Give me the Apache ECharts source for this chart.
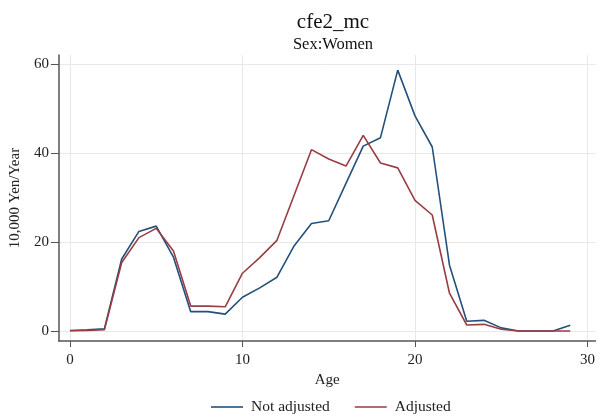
<!DOCTYPE html>
<html><head><meta charset="utf-8">
<script src="https://cdn.jsdelivr.net/npm/echarts@6/dist/echarts.min.js"></script>
<style>html,body{margin:0;padding:0;background:#fff}#c{width:598px;height:416px}</style>
</head><body><div id="c"></div>
<script>
const ages = [0,1,2,3,4,5,6,7,8,9,10,11,12,13,14,15,16,17,18,19,20,21,22,23,24,25,26,27,28,29];
const notAdjusted = [0.1,0.25,0.5,16.2,22.4,23.6,16.6,4.35,4.35,3.8,7.6,9.7,12.1,19.2,24.2,24.8,33.2,41.6,43.5,58.7,48.4,41.4,14.8,2.2,2.4,0.7,0,0,0,1.3];
const adjusted = [0.05,0.1,0.3,15.4,21.0,23.1,18.0,5.6,5.6,5.45,13.0,16.5,20.4,30.6,40.8,38.7,37.1,44.0,37.8,36.7,29.4,26.1,8.5,1.35,1.5,0.4,0,0,0,0];
const xTicks = [0,10,20,30];
const yTicks = [0,20,40,60];
const titleText = 'cfe2_mc';
const subtitleText = 'Sex:Women';

const font = 'Liberation Serif';
const chart = echarts.init(document.getElementById('c'), null, {renderer:'canvas'});
const pair = arr => ages.map((a,i)=>[a, arr[i]]);
chart.setOption({
  animation:false,
  backgroundColor:'#fff',
  title:[
    {text:titleText, left:328, top:7, textAlign:'center', textStyle:{fontFamily:font, fontSize:21, fontWeight:'normal', color:'#111'}},
    {text:subtitleText, left:328, top:31, textAlign:'center', textStyle:{fontFamily:font, fontSize:16.5, fontWeight:'normal', color:'#111'}}
  ],
  legend:{
    left:206, top:394, icon:'rect', itemWidth:32, itemHeight:1.6, itemGap:25,
    textStyle:{fontFamily:font, fontSize:15.5, color:'#222', padding:[0,0,0,3]},
    data:['Not adjusted','Adjusted']
  },
  grid:{left:58, right:1, top:55, bottom:75},
  xAxis:{
    type:'value', min:-0.64, max:30.46,
    name:'Age', nameLocation:'middle', nameGap:26,
    nameTextStyle:{fontFamily:font, fontSize:15, color:'#222'},
    axisLine:{show:true, onZero:false, lineStyle:{color:'#555', width:1.5}},
    axisTick:{show:true, length:6, customValues:xTicks, lineStyle:{color:'#555'}},
    axisLabel:{customValues:xTicks, margin:12, fontFamily:font, fontSize:15, color:'#222'},
    splitLine:{show:true, lineStyle:{color:'#e8e8e8', width:1}}
  },
  yAxis:{
    type:'value', min:-2.25, max:62.1,
    name:'10,000 Yen/Year', nameLocation:'middle', nameGap:33, nameRotate:90,
    nameTextStyle:{fontFamily:font, fontSize:15, color:'#222'},
    axisLine:{show:true, onZero:false, lineStyle:{color:'#555', width:1.5}},
    axisTick:{show:true, length:8, customValues:yTicks, lineStyle:{color:'#555'}},
    axisLabel:{customValues:yTicks, margin:10, fontFamily:font, fontSize:15, color:'#222'},
    splitLine:{show:true, lineStyle:{color:'#e8e8e8', width:1}}
  },
  series:[
    {name:'Not adjusted', type:'line', data:pair(notAdjusted), symbol:'none', lineStyle:{color:'#245179', width:1.6}, itemStyle:{color:'#245179'}},
    {name:'Adjusted', type:'line', data:pair(adjusted), symbol:'none', lineStyle:{color:'#983d44', width:1.6}, itemStyle:{color:'#983d44'}}
  ]
});
</script></body></html>
